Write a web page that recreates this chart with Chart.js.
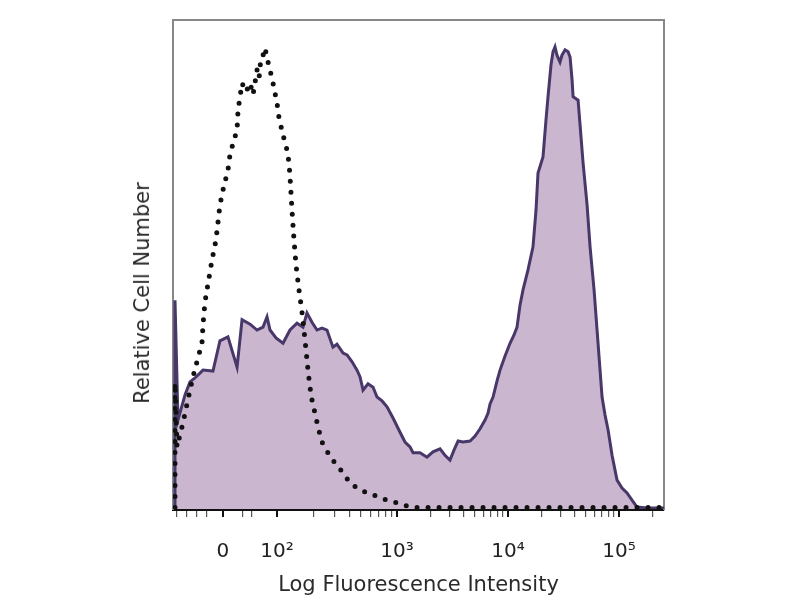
<!DOCTYPE html>
<html>
<head>
<meta charset="utf-8">
<script src="https://cdn.jsdelivr.net/npm/chart.js@4.4.0/dist/chart.umd.min.js"></script>
<style>
    body { margin: 0; background: #fff; }
    #wrap { position: relative; width: 800px; height: 600px; }
    #yTitle {
        position: absolute; left: 142px; top: 293px;
        transform: translate(-50%, -50%) rotate(-90deg);
        font: 21px "DejaVu Sans"; color: #2a2a2a; white-space: nowrap;
    }
</style>
</head>
<body>
<div id="wrap">
    <canvas id="myChart" width="800" height="600"></canvas>
    <div id="yTitle">Relative Cell Number</div>
</div>
<script>
// x in display units (one unit per decade, 10^3 = 3), y in % of plot height
const stainedX = [1.000, 1.000, 1.027, 1.090, 1.135, 1.180, 1.252, 1.342, 1.405, 1.477, 1.559, 1.604, 1.676, 1.739, 1.793, 1.829, 1.856, 1.910, 1.973, 2.036, 2.099, 2.153, 2.189, 2.234, 2.279, 2.324, 2.369, 2.423, 2.459, 2.514, 2.550, 2.595, 2.640, 2.667, 2.694, 2.739, 2.784, 2.820, 2.865, 2.910, 2.964, 3.027, 3.072, 3.117, 3.144, 3.207, 3.270, 3.324, 3.387, 3.432, 3.477, 3.514, 3.550, 3.595, 3.658, 3.703, 3.748, 3.793, 3.820, 3.838, 3.865, 3.901, 3.928, 3.973, 4.018, 4.054, 4.081, 4.108, 4.135, 4.180, 4.225, 4.252, 4.270, 4.315, 4.342, 4.360, 4.387, 4.405, 4.423, 4.441, 4.468, 4.486, 4.514, 4.541, 4.559, 4.577, 4.586, 4.631, 4.649, 4.676, 4.712, 4.739, 4.775, 4.802, 4.829, 4.847, 4.874, 4.901, 4.937, 4.982, 5.027, 5.072, 5.117, 5.162, 5.252, 5.405];
const stainedY = [0, 42.7, 18.2, 23.3, 26.0, 26.8, 28.4, 28.2, 34.4, 35.2, 29.0, 38.7, 37.8, 36.6, 37.2, 39.3, 36.6, 35.0, 33.9, 36.6, 38.0, 37.2, 40.1, 38.2, 36.6, 37.0, 36.6, 33.1, 33.7, 31.9, 31.5, 30.1, 28.4, 27.0, 24.3, 25.6, 24.9, 22.9, 22.1, 20.9, 18.6, 15.7, 13.7, 12.7, 11.5, 11.5, 10.6, 11.7, 12.3, 11.0, 10.0, 12.1, 13.9, 13.7, 13.9, 14.9, 16.4, 18.2, 19.6, 21.5, 22.9, 26.2, 28.4, 31.3, 33.9, 35.6, 37.2, 41.7, 44.8, 48.9, 53.6, 61.1, 68.7, 72.0, 79.6, 84.3, 90.8, 93.5, 94.5, 92.8, 91.4, 92.8, 93.9, 93.5, 92.4, 87.7, 84.3, 83.6, 78.5, 70.8, 62.2, 53.6, 44.8, 36.6, 28.4, 22.9, 19.2, 16.2, 11.0, 5.9, 4.3, 3.3, 1.8, 0.4, 0.2, 0.2];

const controlX = [1.000, 1.000, 1.018, 1.072, 1.135, 1.162, 1.207, 1.243, 1.252, 1.270, 1.288, 1.333, 1.369, 1.405, 1.432, 1.459, 1.477, 1.495, 1.523, 1.559, 1.568, 1.604, 1.640, 1.676, 1.703, 1.739, 1.757, 1.775, 1.793, 1.811, 1.829, 1.856, 1.883, 1.919, 1.937, 1.973, 2.009, 2.027, 2.036, 2.045, 2.054, 2.072, 2.090, 2.117, 2.144, 2.171, 2.198, 2.216, 2.234, 2.261, 2.288, 2.324, 2.378, 2.441, 2.514, 2.577, 2.667, 2.784, 2.910, 3.009, 3.117, 3.207, 5.405];
const controlY = [0.3, 25.8, 12.7, 17.6, 24.3, 27.0, 30.9, 33.9, 37.6, 42.3, 44.8, 50.9, 55.0, 62.2, 65.2, 67.7, 69.3, 72.4, 74.8, 77.5, 81.6, 87.1, 85.3, 87.1, 84.7, 89.8, 88.1, 92.4, 92.8, 94.3, 92.2, 89.8, 87.1, 83.0, 80.0, 76.5, 73.4, 70.8, 67.9, 64.6, 61.1, 55.0, 49.9, 44.8, 40.3, 34.6, 28.4, 24.9, 22.3, 19.6, 16.8, 13.7, 11.5, 9.4, 7.4, 5.3, 3.9, 2.9, 1.8, 1.2, 0.4, 0.3, 0.3];

const majorTicks = [1.432, 1.919, 3, 4, 5];
const majorLabels = ['0', '10²', '10³', '10⁴', '10⁵'];

// minor ticks: linear part near zero, then log steps inside each decade
let minorTicks = [1.018, 1.108, 1.198, 1.288, 1.613, 1.694];
for (let k = 2; k <= 9; k++) {
    minorTicks.push(1.919 + 1.081 * Math.log10(k));
    minorTicks.push(3 + Math.log10(k));
    minorTicks.push(4 + Math.log10(k));
    if (5 + Math.log10(k) < 5.4) minorTicks.push(5 + Math.log10(k));
}
const allTicks = majorTicks.concat(minorTicks).sort((a, b) => a - b);

const isMajor = v => majorTicks.some(m => Math.abs(m - v) < 1e-6);
const toPoints = (xs, ys) => xs.map((x, i) => ({ x: x, y: ys[i] }));

const ctx = document.getElementById('myChart');
const font = 'DejaVu Sans';

new Chart(ctx, {
    type: 'line',
    data: {
        datasets: [{
            label: 'control',
            data: toPoints(controlX, controlY),
            borderColor: '#111',
            borderWidth: 5,
            borderDash: [0, 11],
            borderCapStyle: 'round',
            pointRadius: 0,
            tension: 0,
            fill: false
        }, {
            label: 'stained',
            data: toPoints(stainedX, stainedY),
            borderColor: '#48386a',
            borderWidth: 3,
            backgroundColor: '#cbb6d0',
            pointRadius: 0,
            tension: 0,
            fill: 'origin'
        }]
    },
    options: {
        responsive: false,
        animation: false,
        layout: { padding: { left: 173, top: 20, right: 136, bottom: 0 } },
        scales: {
            x: {
                type: 'linear',
                min: 0.982,
                max: 5.405,
                afterBuildTicks: scale => { scale.ticks = allTicks.map(v => ({ value: v })); },
                afterFit: scale => { scale.height = 91; },
                grid: {
                    display: true,
                    drawOnChartArea: false,
                    drawTicks: true,
                    tickLength: 8,
                    color: c => isMajor(c.tick.value) ? '#111' : '#555',
                    lineWidth: c => isMajor(c.tick.value) ? 2 : 1.2
                },
                border: { display: true, color: '#111', width: 3 },
                ticks: {
                    autoSkip: false,
                    maxRotation: 0,
                    padding: 23,
                    color: '#222',
                    font: { family: font, size: 20 },
                    callback: value => {
                        let i = majorTicks.findIndex(m => Math.abs(m - value) < 1e-6);
                        return i >= 0 ? majorLabels[i] : '';
                    }
                },
                title: {
                    display: true,
                    text: 'Log Fluorescence Intensity',
                    color: '#2a2a2a',
                    font: { family: font, size: 21 },
                    padding: { top: 0, bottom: 2 }
                }
            },
            y: {
                min: 0,
                max: 100,
                afterFit: scale => { scale.width = 0; },
                ticks: { display: false },
                grid: { display: false },
                border: { display: true, color: '#888', width: 2 }
            },
            x2: {
                type: 'linear',
                position: 'top',
                display: true,
                min: 0.982,
                max: 5.405,
                afterFit: scale => { scale.height = 0; },
                ticks: { display: false },
                grid: { display: false },
                border: { display: true, color: '#888', width: 2 }
            },
            y2: {
                position: 'right',
                display: true,
                min: 0,
                max: 100,
                afterFit: scale => { scale.width = 0; },
                ticks: { display: false },
                grid: { display: false },
                border: { display: true, color: '#888', width: 2 }
            }
        },
        plugins: {
            legend: { display: false },
            tooltip: { enabled: false }
        }
    }
});
</script>
</body>
</html>
